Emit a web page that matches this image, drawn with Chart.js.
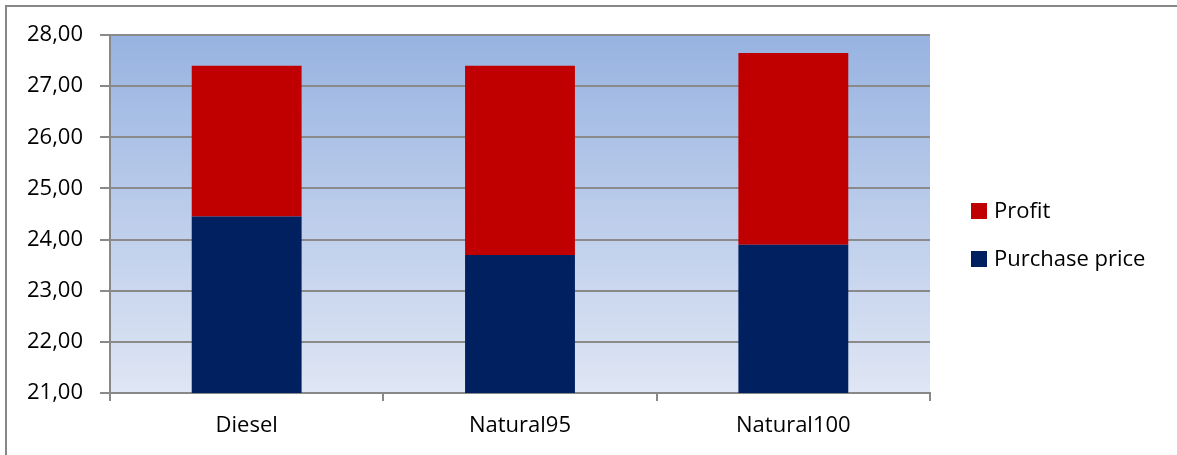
<!DOCTYPE html>
<html>
<head>
  <title>Fuel price chart</title>
  <script src="https://cdn.jsdelivr.net/npm/chart.js"></script>
  <style>
    html, body { margin: 0; padding: 0; overflow: hidden; background: #fff; }
    #frame {
      position: absolute; left: 5px; top: 5px;
      width: 1300px; height: 600px;
      border: 2px solid #888;
    }
    #wrap { position: absolute; left: 0; top: 0; width: 1177px; height: 455px; }
    #legend {
      position: absolute; left: 971px; top: 196px;
      font-family: "Open Sans", sans-serif; font-size: 22px; color: #000;
    }
    #legend div { height: 48px; line-height: 26px; white-space: nowrap; }
    #legend span.box { display: inline-block; width: 16px; height: 16px; margin-right: 7px; vertical-align: -1px; }
  </style>
</head>
<body>
  <div id="frame"></div>
  <div id="wrap"><canvas id="priceChart"></canvas></div>
  <div id="legend"></div>

  <script>
    var categories = ["Diesel", "Natural95", "Natural100"];
    var purchasePrice = [24.45, 23.70, 23.90];
    var profit = [2.95, 3.70, 3.75];
    var yTickLabels = ["21,00", "22,00", "23,00", "24,00", "25,00", "26,00", "27,00", "28,00"];

    // plot area gradient, like the excel chart
    var plotBackground = {
      id: "plotBackground",
      beforeDraw: function(chart) {
        var a = chart.chartArea;
        var ctx = chart.ctx;
        var g = ctx.createLinearGradient(0, a.top, 0, a.bottom);
        g.addColorStop(0, "#98b3e1");
        g.addColorStop(1, "#dfe6f4");
        ctx.save();
        ctx.fillStyle = g;
        ctx.fillRect(a.left, a.top, a.right - a.left, a.bottom - a.top);
        ctx.restore();
      }
    };

    var ctx = document.getElementById("priceChart").getContext("2d");
    var chart = new Chart(ctx, {
      type: "bar",
      data: {
        labels: categories,
        datasets: [{
          label: "Purchase price",
          data: purchasePrice,
          backgroundColor: "#002060"
        }, {
          label: "Profit",
          data: profit,
          backgroundColor: "#c00000"
        }]
      },
      options: {
        responsive: true,
        maintainAspectRatio: false,
        animation: false,
        layout: { padding: { top: 35, right: 247, left: 0, bottom: 0 } },
        plugins: {
          legend: { display: false },
          tooltip: { enabled: false }
        },
        datasets: {
          bar: { categoryPercentage: 1, barPercentage: 0.402 }
        },
        scales: {
          x: {
            stacked: true,
            grid: { drawOnChartArea: false, color: "#888", lineWidth: 2, tickLength: 8 },
            border: { color: "#888", width: 2 },
            ticks: { color: "#000", padding: 12, font: { family: "Open Sans", size: 22 } },
            afterFit: function(s) { s.height = 62; }
          },
          y: {
            stacked: true,
            min: 21,
            max: 28,
            grid: { color: "#8a8a8a", lineWidth: 2, tickLength: 10 },
            border: { color: "#888", width: 2 },
            ticks: {
              stepSize: 1,
              color: "#000",
              padding: 17,
              font: { family: "Open Sans", size: 22 },
              callback: function(v, i) { return yTickLabels[i]; }
            },
            afterFit: function(s) { s.width = 110; }
          }
        }
      },
      plugins: [plotBackground]
    });

    // legend in excel order (Profit above Purchase price)
    var legend = document.getElementById("legend");
    chart.data.datasets.slice().reverse().forEach(function(ds) {
      var row = document.createElement("div");
      row.innerHTML = '<span class="box" style="background:' + ds.backgroundColor + '"></span>' + ds.label;
      legend.appendChild(row);
    });
  </script>
</body>
</html>
